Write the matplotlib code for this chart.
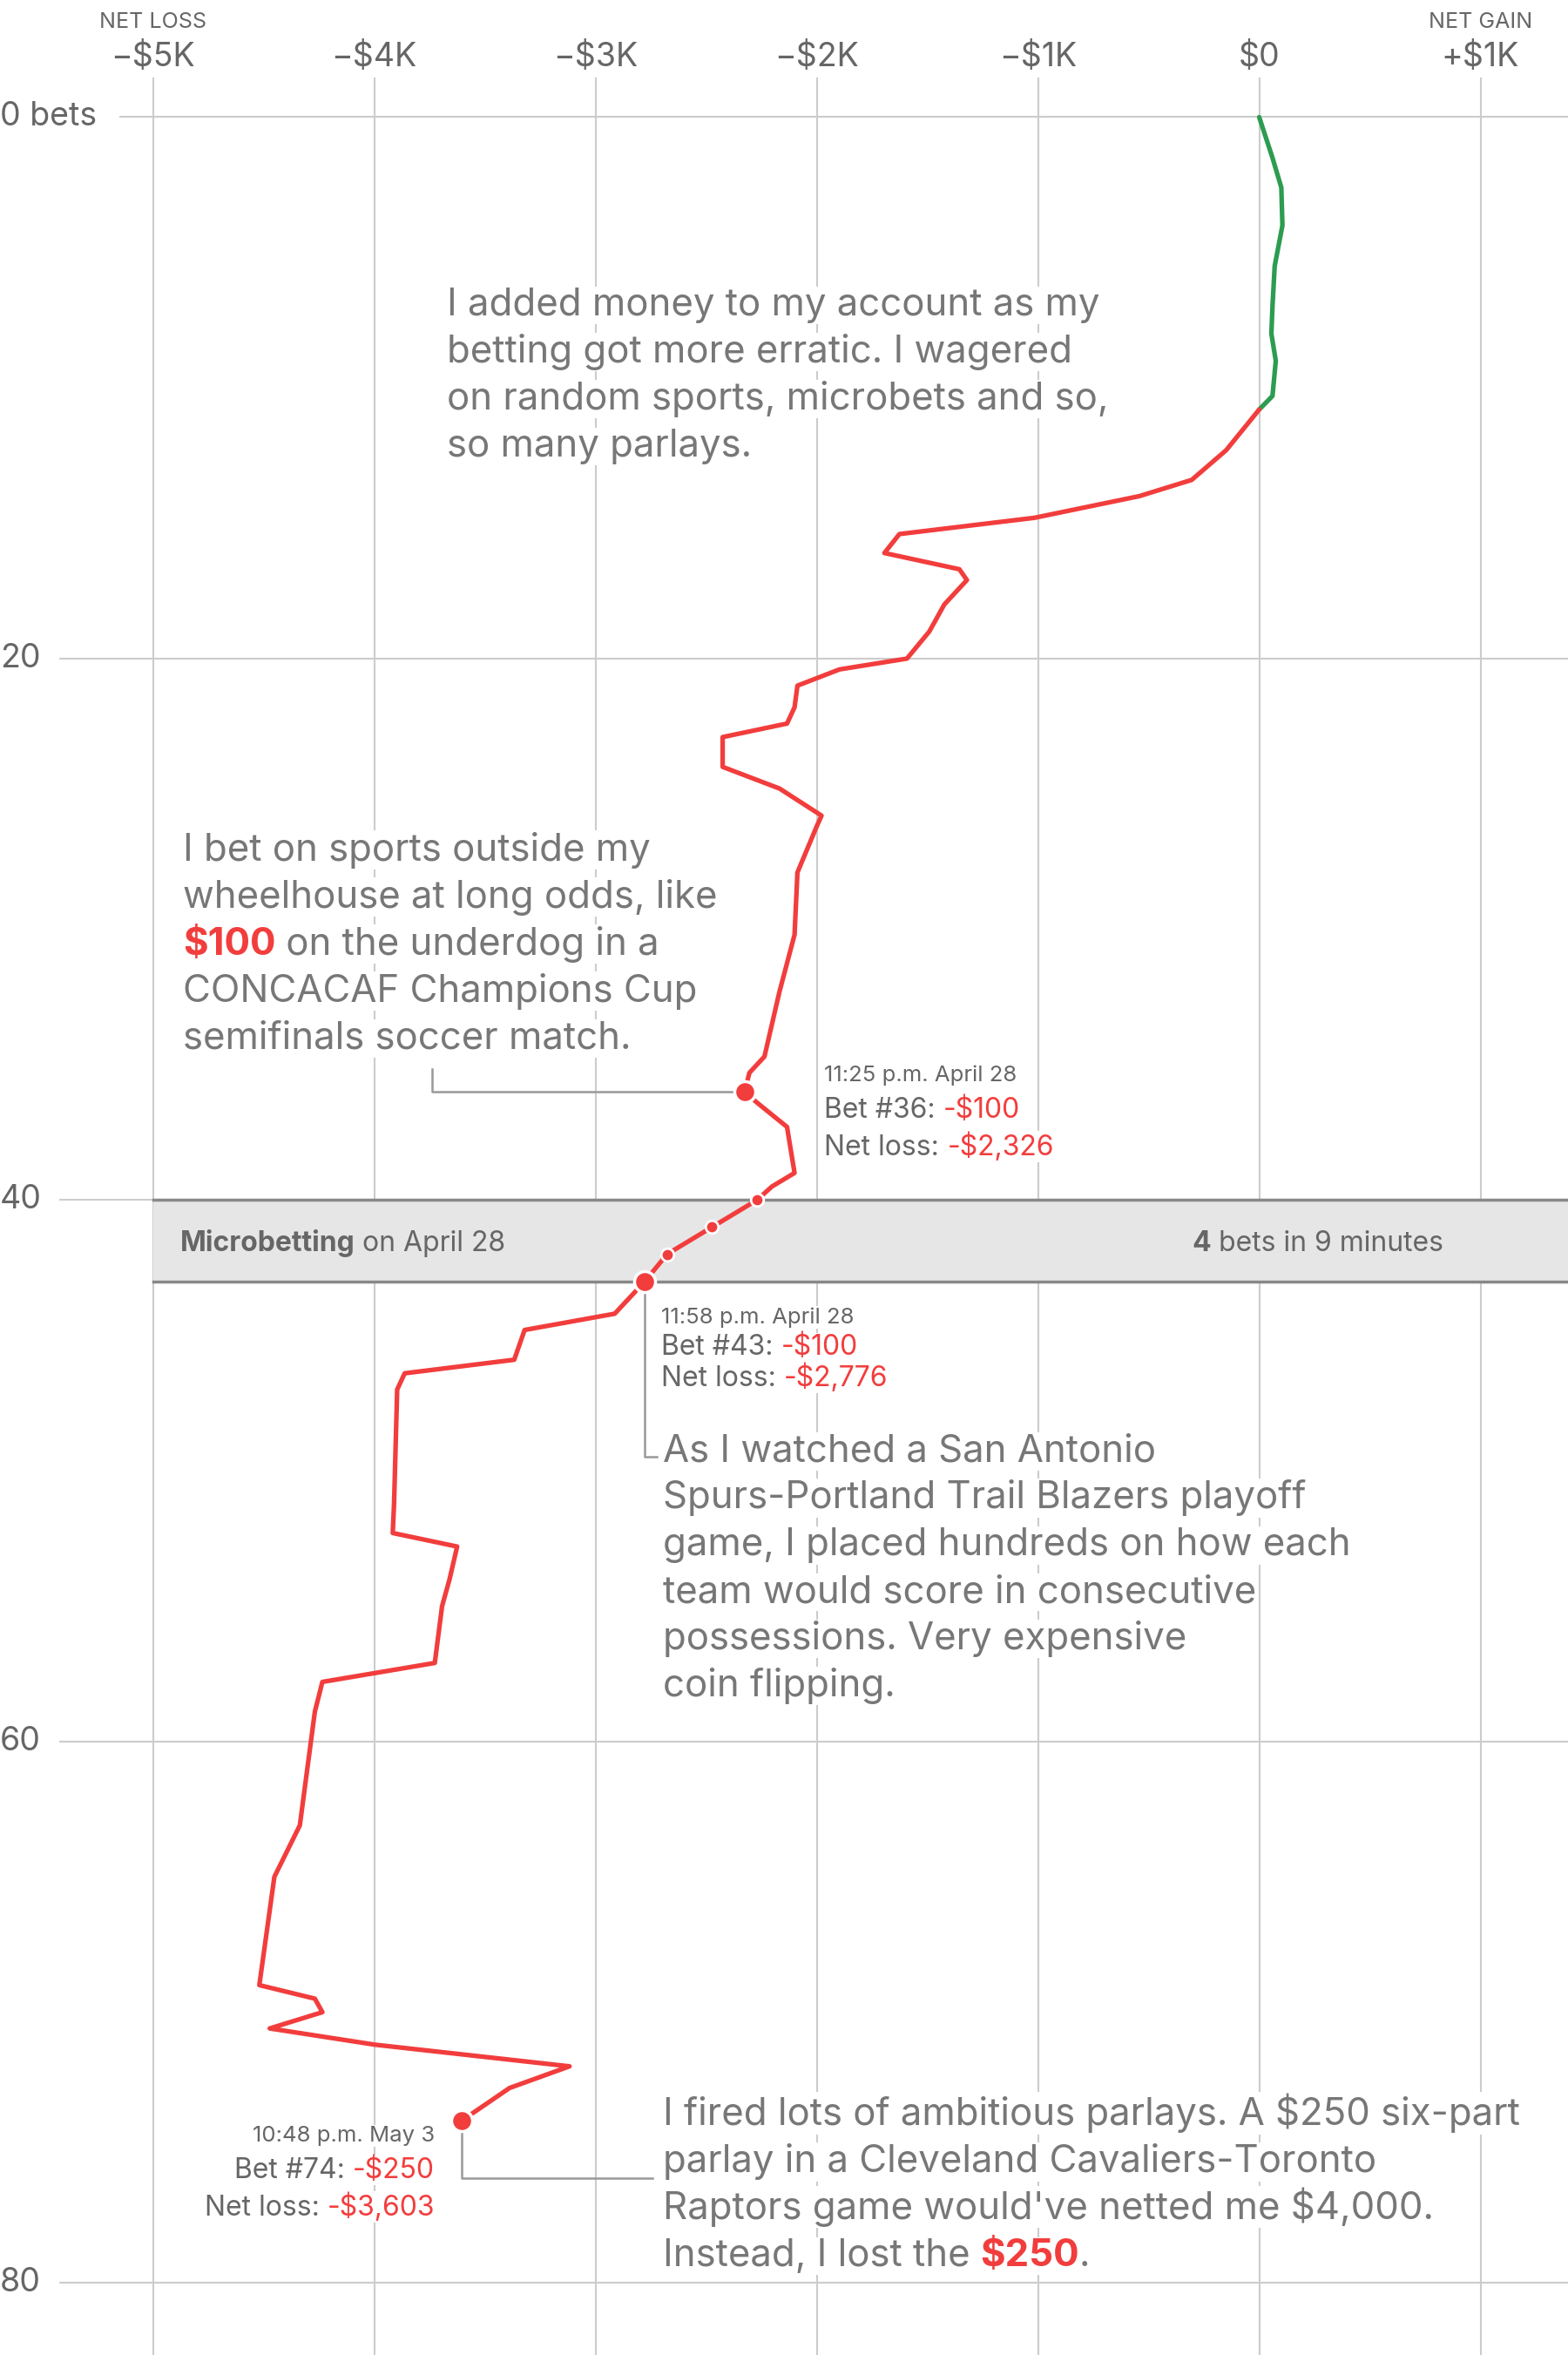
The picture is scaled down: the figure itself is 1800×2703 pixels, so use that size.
import matplotlib
matplotlib.use("Agg")
import matplotlib.pyplot as plt

plt.rcParams['font.family'] = ['Inter', 'DejaVu Sans']

# Data: bet number vs net result (dollars)
green_bets = [0, 1.5, 2.6, 4, 5.5, 7, 8, 9, 10.3, 10.8]
green_net = [0, 60, 100, 105, 70, 60, 55, 75, 60, 0]
red_bets = [10.8, 12.3, 13.4, 14, 14.8, 15.4, 16.1, 16.7, 17.1, 18, 19, 20, 20.4, 21, 21.8, 22.4, 22.9, 24,
            24.8, 25.8, 26.2, 27.9, 30.2, 32.3, 34.7, 35.3, 36, 36.4, 37.3, 39, 39.5, 40, 41, 42, 43, 44.2,
            44.8, 45.9, 46.4, 47, 51.2, 52.3, 52.8, 54, 55, 57.1, 57.8, 58.9, 63.1, 65, 69, 69.5, 70, 70.6,
            71.2, 72, 72.8, 74]
red_net = [0, -149, -305, -542, -1016, -1626, -1694, -1355, -1321, -1423, -1491, -1592, -1897, -2087, -2100,
           -2134, -2425, -2425, -2168, -1978, -2000, -2087, -2100, -2168, -2236, -2304, -2326, -2270, -2134,
           -2100, -2202, -2270, -2473, -2676, -2776, -2913, -3320, -3367, -3862, -3896, -3910, -3916, -3625,
           -3659, -3693, -3726, -4234, -4268, -4336, -4451, -4519, -4268, -4234, -4472, -3997, -3117, -3388,
           -3603]
big_dot_bets = [36, 43, 74]
big_dot_net = [-2326, -2776, -3603]
small_dot_bets = [40, 41, 42]
small_dot_net = [-2270, -2473, -2676]
x_ticks = [-5000, -4000, -3000, -2000, -1000, 0, 1000]
x_labels = ['−$5K', '−$4K', '−$3K', '−$2K', '−$1K', '$0', '+$1K']
y_ticks = [0, 20, 40, 60, 80]
y_labels = ['0 bets', '20', '40', '60', '80']

RED = '#f23d3d'
GREEN = '#2c9c50'
GRAY = '#777777'
DARK = '#666666'
GRID = '#cccccc'

W, H = 1046, 1568
def X(px): return (px - 840) / 0.1476
def Y(py): return (py - 78) / 18.025

fig = plt.figure(figsize=(18, 27.03), dpi=100)
ax = fig.add_axes([0, 0, 1, 1])
ax.set_xlim(X(0), X(W))
ax.set_ylim(Y(H), Y(0))
ax.axis('off')
renderer = fig.canvas.get_renderer()
SC = 1800 / W  # real px per reference px

for xt, lab in zip(x_ticks, x_labels):
    ax.plot([xt, xt], [Y(52), Y(H)], color=GRID, lw=1.5, zorder=0)
    ax.text(xt, Y(38), lab, ha='center', va='center', fontsize=27, color=DARK)
ax.text(-5000, Y(15), 'NET LOSS', ha='center', va='center', fontsize=18, color=DARK)
ax.text(1000, Y(15), 'NET GAIN', ha='center', va='center', fontsize=18, color=DARK)
for yt, lab in zip(y_ticks, y_labels):
    x0 = X(80) if yt == 0 else X(40)
    ax.plot([x0, X(W)], [yt, yt], color=GRID, lw=1.5, zorder=0)
    ax.text(X(0), yt, lab, ha='left', va='center', fontsize=27, color=DARK,
            bbox=dict(fc='white', ec='none', pad=2))

# microbetting band
ax.fill_between([-5000, X(W)], 40, 43, color='#e6e6e6', zorder=1)
ax.plot([-5000, X(W)], [40, 40], color='#888888', lw=2.5, zorder=1)
ax.plot([-5000, X(W)], [43, 43], color='#888888', lw=2.5, zorder=1)

ax.plot(green_net, green_bets, color=GREEN, lw=3.8, solid_capstyle='round', solid_joinstyle='round', zorder=3)
ax.plot(red_net, red_bets, color=RED, lw=3.8, solid_capstyle='round', solid_joinstyle='round', zorder=3)
ax.scatter(big_dot_net, big_dot_bets, s=300, color=RED, edgecolor='white', linewidth=2.5, zorder=5)
ax.scatter(small_dot_net, small_dot_bets, s=110, color=RED, edgecolor='white', linewidth=2, zorder=5)

def width_ref(s, size, w):
    t = ax.text(0, 0, s, fontsize=size, fontweight=w)
    wd = t.get_window_extent(renderer).width
    t.remove()
    return wd / SC

def rich(px, py, segs, size, align='left', bg=True):
    widths = [width_ref(s, size, w) for s, c, w in segs]
    x = px if align == 'left' else px - sum(widths)
    for (s, c, w), wd in zip(segs, widths):
        kw = dict(fontsize=size, va='baseline', ha='left', color=c, fontweight=w, zorder=6)
        if bg:
            kw['bbox'] = dict(fc='white', ec='none', pad=1)
        ax.text(X(x), Y(py), s, **kw)
        x += wd

def para(px, py, lines, size=31.5, step=31.3):
    for i, ln in enumerate(lines):
        segs = [(ln, GRAY, 'normal')] if isinstance(ln, str) else ln
        rich(px, py + 20 + i * step, segs, size)

para(298, 190, ["I added money to my account as my", "betting got more erratic. I wagered",
                "on random sports, microbets and so,", "so many parlays."])
para(122, 553, ["I bet on sports outside my", "wheelhouse at long odds, like",
                [("$100", RED, 'bold'), (" on the underdog in a", GRAY, 'normal')],
                "CONCACAF Champions Cup", "semifinals soccer match."])
para(442, 953, ["As I watched a San Antonio", "Spurs-Portland Trail Blazers playoff",
                "game, I placed hundreds on how each", "team would score in consecutive",
                "possessions. Very expensive", "coin flipping."])
para(442, 1395, ["I fired lots of ambitious parlays. A $250 six-part", "parlay in a Cleveland Cavaliers-Toronto",
                 "Raptors game would've netted me $4,000.",
                 [("Instead, I lost the ", GRAY, 'normal'), ("$250", RED, 'bold'), (".", GRAY, 'normal')]])

# leaders
LC = '#999999'
ax.plot([X(288), X(288), X(490)], [Y(712), Y(727), Y(727)], color=LC, lw=1.8, zorder=2)
ax.plot([X(430), X(430), X(438)], [Y(858), Y(970), Y(970)], color=LC, lw=1.8, zorder=2)
ax.plot([X(308), X(308), X(435)], [Y(1418), Y(1450), Y(1450)], color=LC, lw=1.8, zorder=2)

# bet labels
rich(550, 720, [("11:25 p.m. April 28", DARK, 'normal')], 18.5)
rich(550, 744, [("Bet #36: ", DARK, 'normal'), ("-$100", RED, 'normal')], 23)
rich(550, 769, [("Net loss: ", DARK, 'normal'), ("-$2,326", RED, 'normal')], 23)
rich(441, 881, [("11:58 p.m. April 28", DARK, 'normal')], 18.5)
rich(441, 902, [("Bet #43: ", DARK, 'normal'), ("-$100", RED, 'normal')], 23)
rich(441, 923, [("Net loss: ", DARK, 'normal'), ("-$2,776", RED, 'normal')], 23)
rich(290, 1426, [("10:48 p.m. May 3", DARK, 'normal')], 18.5, align='right')
rich(290, 1450, [("Bet #74: ", DARK, 'normal'), ("-$250", RED, 'normal')], 23, align='right')
rich(290, 1475, [("Net loss: ", DARK, 'normal'), ("-$3,603", RED, 'normal')], 23, align='right')

rich(120, 833, [("Microbetting", DARK, 'bold'), (" on April 28", DARK, 'normal')], 23, bg=False)
rich(963, 833, [("4", DARK, 'bold'), (" bets in 9 minutes", DARK, 'normal')], 23, align='right', bg=False)

fig.savefig('out.png', dpi=100, facecolor='white')
